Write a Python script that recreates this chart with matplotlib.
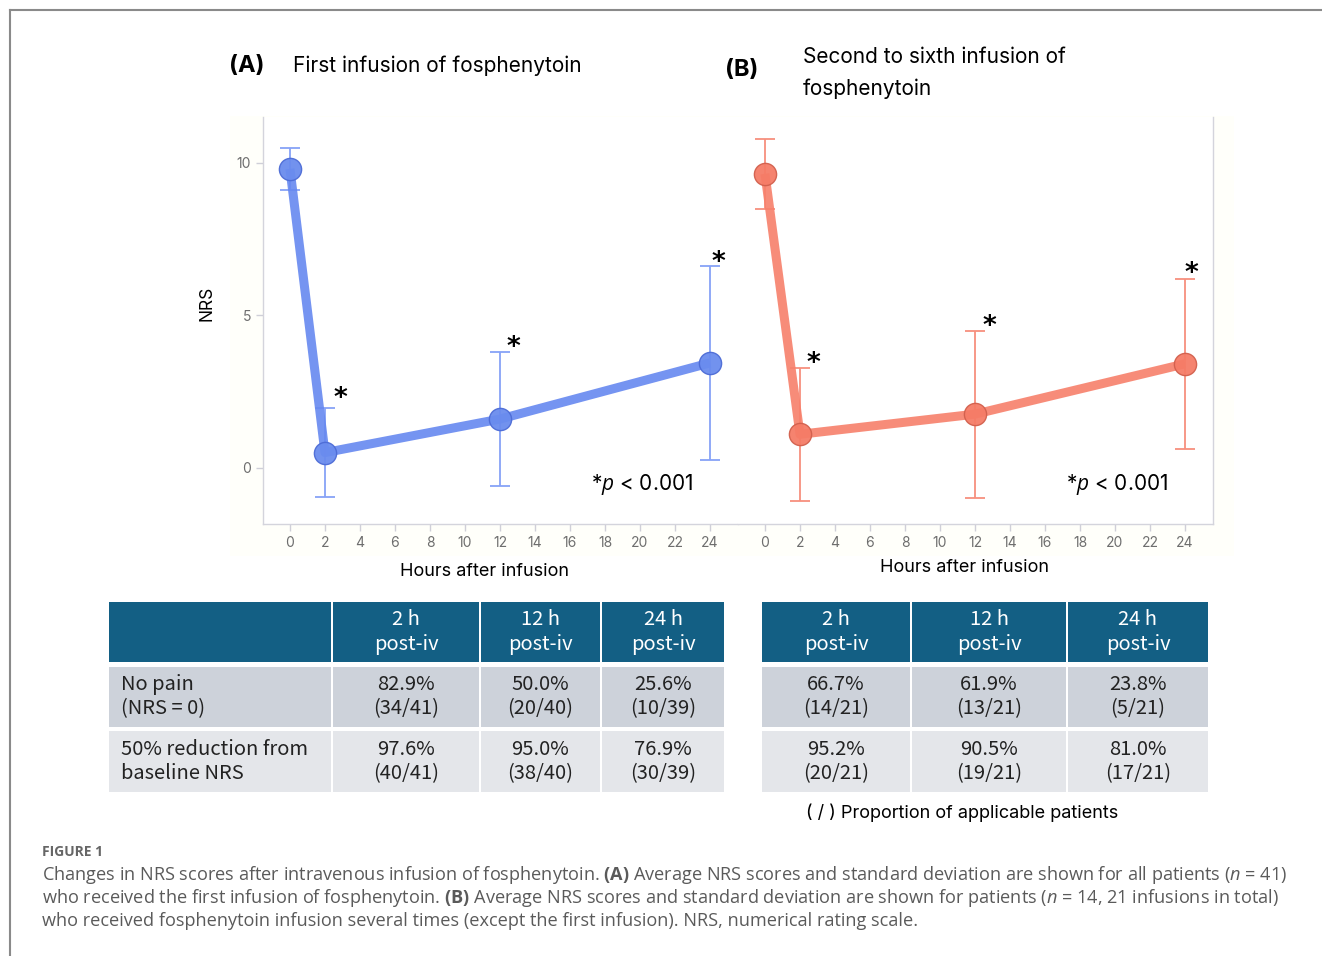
import numpy as np
import matplotlib.pyplot as plt
from matplotlib.patches import Rectangle
from matplotlib.lines import Line2D

plt.rcParams['mathtext.fontset'] = 'custom'
plt.rcParams['mathtext.rm'] = 'Open Sans'
plt.rcParams['mathtext.it'] = 'Open Sans:italic'
plt.rcParams['mathtext.bf'] = 'Open Sans:bold'

# ---------------- data ----------------
hours = [0, 2, 12, 24]

nrs_first = [9.8, 0.5, 1.6, 3.44]
sd_first = [0.7, 1.45, 2.2, 3.18]

nrs_repeat = [9.64, 1.1, 1.76, 3.41]
sd_repeat = [1.15, 2.18, 2.74, 2.79]

col_heads = ["2 h\npost-iv", "12 h\npost-iv", "24 h\npost-iv"]
row_heads = ["No pain\n(NRS = 0)", "50% reduction from\nbaseline NRS"]

no_pain_first = ["82.9%\n(34/41)", "50.0%\n(20/40)", "25.6%\n(10/39)"]
half_red_first = ["97.6%\n(40/41)", "95.0%\n(38/40)", "76.9%\n(30/39)"]
no_pain_repeat = ["66.7%\n(14/21)", "61.9%\n(13/21)", "23.8%\n(5/21)"]
half_red_repeat = ["95.2%\n(20/21)", "90.5%\n(19/21)", "81.0%\n(17/21)"]

W, H = 1322, 956
fig = plt.figure(figsize=(W / 100, H / 100), dpi=100)


def fx(px):
  return px / W


def fy(py):
  return 1 - py / H


def box(x0, y0, x1, y1):
  return [fx(x0), fy(y1), fx(x1) - fx(x0), fy(y0) - fy(y1)]


# outer frame
fig.add_artist(Line2D([fx(10), fx(10)], [fy(10), 0], color='#8a8a8a', lw=1.5))
fig.add_artist(Line2D([fx(10), 1], [fy(10), fy(10)], color='#8a8a8a', lw=1.5))

# faint cream backdrop behind plots
fig.add_artist(Rectangle((fx(230), fy(556)), fx(1234) - fx(230), fy(116) - fy(556),
                         transform=fig.transFigure, facecolor='#fffffa', edgecolor='none', zorder=0))

tfont = 'Inter'


def panel(rect, means, sds, line_c, mark_c, edge_c, err_c, show_y, star_dx, star_dy):
  ax = fig.add_axes(rect)
  ax.set_facecolor('white')
  ax.errorbar(hours, means, yerr=sds, fmt='none', ecolor=err_c, elinewidth=1.3,
              capsize=7, capthick=1.3, zorder=2)
  ax.plot(hours, means, color=line_c, lw=6.5, alpha=0.9, zorder=3, solid_capstyle='butt')
  ax.plot(hours, means, 'o', ms=16, color=mark_c, mec=edge_c, mew=1, zorder=4, alpha=0.95)
  for h, m, s, dx, dy in zip(hours[1:], means[1:], sds[1:], star_dx, star_dy):
    ax.text(h + dx, m + s + dy, '*', fontsize=19, fontweight='bold', ha='center', va='center',
            family='DejaVu Sans')
  ax.text(17.2, -0.55, r'*$\it{p}$ < 0.001', fontsize=15, family=tfont, ha='left', va='center')
  ax.set_xlim(-1.54, 25.6)
  ax.set_ylim(-1.84, 11.5)
  ax.set_xticks(range(0, 25, 2))
  ax.set_yticks([0, 5, 10])
  ax.tick_params(colors='#cfcfd8', labelcolor='#6e6e6e', labelsize=10, length=5, width=1)
  for lab in ax.get_xticklabels() + ax.get_yticklabels():
    lab.set_family('Inter')
  for s in ['left', 'bottom', 'right']:
    ax.spines[s].set_color('#d4d4dc')
    ax.spines[s].set_linewidth(1)
  ax.spines['top'].set_visible(False)
  if not show_y:
    ax.spines['left'].set_visible(False)
    ax.tick_params(axis='y', left=False, labelleft=False)
  return ax


axA = panel(box(263, 117, 738, 524), nrs_first, sd_first, '#6688f0', '#6a8cee', '#4d6cd6',
            '#87a3f7', True, [0.86, 0.74, 0.5], [0.31, 0.13, 0.1])
axB = panel(box(738, 117, 1213, 524), nrs_repeat, sd_repeat, '#f7806b', '#f57c67', '#d2604d',
            '#f7907e', False, [0.74, 0.8, 0.35], [0.13, 0.12, 0.16])
axA.spines['right'].set_visible(False)

fig.text(fx(207), fy(303), 'NRS', rotation=90, ha='center', va='center', fontsize=12.5, family=tfont)
fig.text(fx(485), fy(572), 'Hours after infusion', ha='center', va='center', fontsize=13, family=tfont)
fig.text(fx(964), fy(567), 'Hours after infusion', ha='center', va='center', fontsize=13, family=tfont)

# panel titles
fig.text(fx(229), fy(66), '(A)', fontsize=17, fontweight='bold', family=tfont, va='center')
fig.text(fx(293), fy(66), 'First infusion of fosphenytoin', fontsize=15, family=tfont, va='center')
fig.text(fx(725), fy(70), '(B)', fontsize=17, fontweight='bold', family=tfont, va='center')
fig.text(fx(803), fy(73), 'Second to sixth infusion of\nfosphenytoin', fontsize=15, family=tfont,
         va='center', linespacing=1.7)

# ---------------- tables ----------------
head_c = '#135f84'
row_c = ['#cdd2da', '#e4e6ea']
tab_font = 'Noto Sans CJK JP'
row_y = [(602, 662), (667, 727), (731, 792)]


def cell(x0, x1, y0, y1, color, txt, tcolor, ha='center'):
  fig.add_artist(Rectangle((fx(x0), fy(y1)), fx(x1) - fx(x0), fy(y0) - fy(y1),
                           transform=fig.transFigure, facecolor=color, edgecolor='none'))
  if txt:
    xt = (x0 + x1) / 2 if ha == 'center' else x0 + 12
    fig.text(fx(xt), fy((y0 + y1) / 2), txt, ha=ha, va='center', fontsize=14.5, color=tcolor,
             family=tab_font, linespacing=1.2)


def table(cols, rows_data, first_label):
  for ci, (x0, x1) in enumerate(cols):
    if first_label and ci == 0:
      cell(x0, x1, *row_y[0], head_c, '', 'white')
      for ri, lab in enumerate(row_heads):
        cell(x0, x1, *row_y[ri + 1], row_c[ri], lab, '#222222', ha='left')
      continue
    k = ci - 1 if first_label else ci
    cell(x0, x1, *row_y[0], head_c, col_heads[k], 'white')
    for ri, vals in enumerate(rows_data):
      cell(x0, x1, *row_y[ri + 1], row_c[ri], vals[k], '#222222')


table([(109, 331), (333, 479), (481, 600), (602, 724)], [no_pain_first, half_red_first], True)
table([(762, 910), (912, 1066), (1068, 1208)], [no_pain_repeat, half_red_repeat], False)

fig.text(fx(962), fy(813), '( / ) Proportion of applicable patients', ha='center', va='center',
         fontsize=13, family=tfont)

# ---------------- caption ----------------
cap_c = '#5a5a5a'
fig.text(fx(42), fy(852), 'FIGURE 1', fontsize=10, color='#666666', family='Open Sans',
         fontweight='bold', va='center')
cap_lines = [
  r'Changes in NRS scores after intravenous infusion of fosphenytoin. $\mathbf{(A)}$ Average NRS scores and standard deviation are shown for all patients ($n$ = 41)',
  r'who received the first infusion of fosphenytoin. $\mathbf{(B)}$ Average NRS scores and standard deviation are shown for patients ($n$ = 14, 21 infusions in total)',
  r'who received fosphenytoin infusion several times (except the first infusion). NRS, numerical rating scale.',
]
for i, line in enumerate(cap_lines):
  fig.text(fx(42), fy(875 + 23 * i), line, fontsize=13.1, color=cap_c, family='Open Sans', va='center')

fig.savefig('out.png', dpi=100)
